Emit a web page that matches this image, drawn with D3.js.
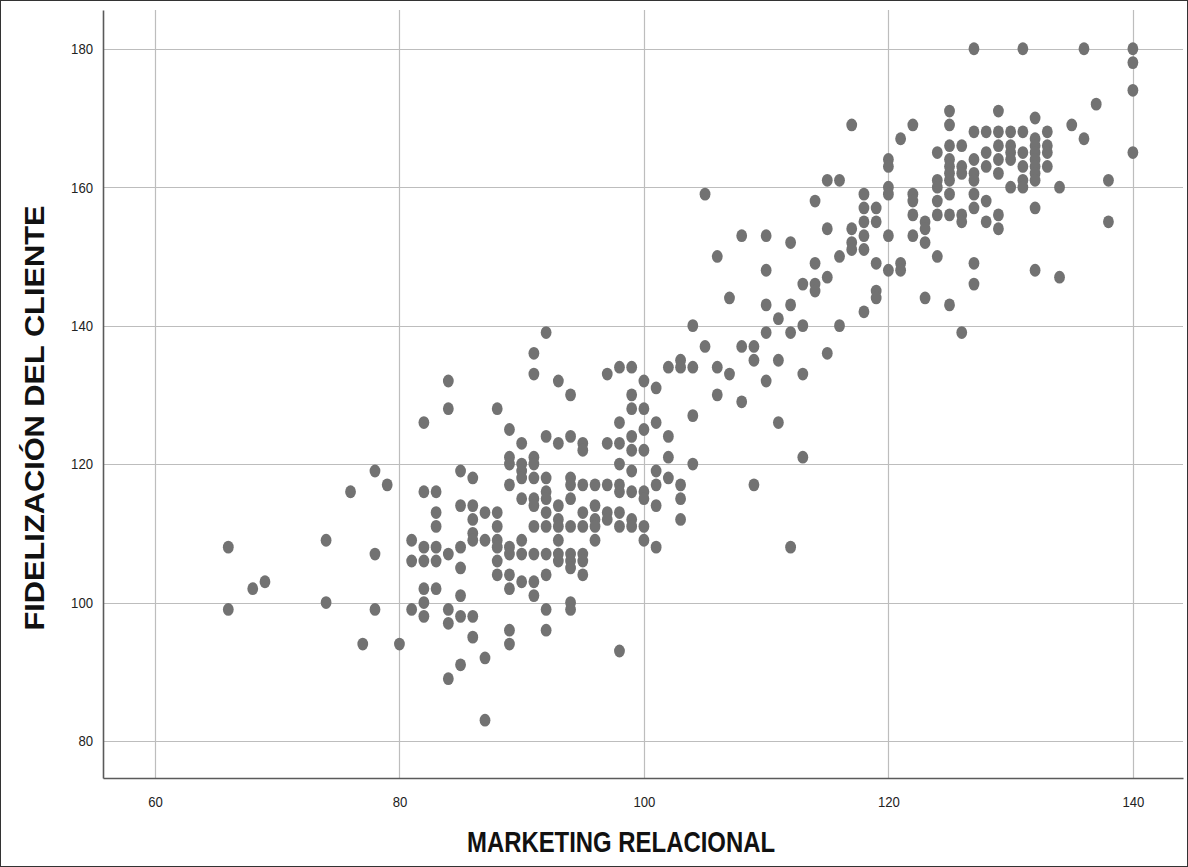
<!DOCTYPE html>
<html>
<head>
<meta charset="utf-8">
<script src="https://cdn.jsdelivr.net/npm/d3@7"></script>
<style>
  body { margin: 0; background: #fff; }
  #scatter_div { width: 1188px; height: 867px; }
</style>
</head>
<body>
<div id="scatter_div"></div>
<script>
// x values (MARKETING RELACIONAL) and the y values read at each x
const marketingScores = [66, 68, 69, 74, 76, 77, 78, 79, 80, 81, 82, 83, 84, 85, 86, 87, 88, 89, 90,
  91, 92, 93, 94, 95, 96, 97, 98, 99, 100, 101, 102, 103, 104, 105, 106, 107, 108, 109, 110,
  111, 112, 113, 114, 115, 116, 117, 118, 119, 120, 121, 122, 123, 124, 125, 126, 127, 128,
  129, 130, 131, 132, 133, 134, 135, 136, 137, 138, 140];

const fidelizacionScores = [
  [108, 99], [102], [103], [109, 100], [116], [94], [119, 107, 99], [117], [94],
  [109, 106, 99],
  [126, 116, 108, 106, 102, 100, 98],
  [116, 113, 111, 108, 106, 102],
  [132, 128, 107, 99, 97, 89],
  [119, 114, 108, 105, 101, 98, 91],
  [118, 114, 112, 110, 109, 98, 95],
  [113, 109, 92, 83],
  [128, 113, 111, 109, 108, 106, 104],
  [125, 121, 120, 117, 108, 107, 104, 102, 96, 94],
  [123, 120, 119, 118, 115, 109, 107, 103],
  [136, 133, 121, 120, 118, 115, 114, 111, 107, 103, 101],
  [139, 124, 118, 116, 115, 113, 111, 107, 104, 99, 96],
  [132, 123, 114, 112, 111, 109, 107, 106],
  [130, 124, 118, 117, 115, 111, 107, 106, 105, 100, 99],
  [123, 122, 117, 113, 111, 107, 106, 104],
  [117, 114, 112, 111, 109],
  [133, 123, 117, 113, 112],
  [134, 126, 123, 120, 117, 116, 113, 111, 93],
  [134, 130, 128, 124, 122, 119, 116, 112, 111],
  [132, 128, 125, 122, 116, 115, 111, 109],
  [131, 126, 119, 117, 114, 108],
  [134, 124, 121, 118],
  [135, 134, 117, 115, 112],
  [140, 134, 127, 120],
  [159, 137],
  [150, 134, 130],
  [144, 133],
  [153, 137, 129],
  [137, 135, 117],
  [153, 148, 143, 139, 132],
  [141, 135, 126],
  [152, 143, 139, 108],
  [146, 140, 133, 121],
  [158, 149, 146, 145],
  [161, 154, 147, 136],
  [161, 150, 140],
  [169, 154, 152, 151],
  [159, 157, 155, 153, 151, 142],
  [157, 155, 149, 145, 144],
  [164, 163, 160, 159, 153, 148],
  [167, 149, 148],
  [169, 159, 158, 156, 153],
  [155, 154, 152, 144],
  [165, 161, 160, 158, 156, 150],
  [171, 169, 166, 164, 163, 162, 161, 159, 156, 143],
  [166, 163, 162, 156, 155, 139],
  [180, 168, 164, 162, 161, 159, 157, 149, 146],
  [168, 165, 163, 158, 155],
  [171, 168, 166, 164, 162, 156, 154],
  [168, 166, 165, 164, 160],
  [180, 168, 165, 163, 161, 160],
  [170, 167, 166, 165, 164, 163, 162, 161, 157, 148],
  [168, 166, 165, 163],
  [160, 147],
  [169],
  [180, 167],
  [172],
  [161, 155],
  [180, 178, 174, 165]
];

const xTicks = [60, 80, 100, 120, 140];
const yTicks = [80, 100, 120, 140, 160, 180];

const xLabel = "MARKETING RELACIONAL";
const yLabel = "FIDELIZACIÓN DEL CLIENTE";

// flatten into points
const points = [];
marketingScores.forEach((mx, i) => {
  fidelizacionScores[i].forEach(fy => points.push({ x: mx, y: fy }));
});

// dimensions
const width = 1188, height = 867;
const plot = { left: 103, right: 1183, top: 10, bottom: 778 };
const FONT = "'Liberation Sans', Arial, sans-serif";

const svg = d3.select("#scatter_div")
  .append("svg")
  .attr("width", width)
  .attr("height", height)
  .attr("viewBox", `0 0 ${width} ${height}`);

// outer frame of the picture
svg.append("rect")
  .attr("x", 0.5).attr("y", 0.5)
  .attr("width", width - 1).attr("height", height - 1)
  .attr("fill", "#fff")
  .attr("stroke", "#333")
  .attr("stroke-width", 1);

// scales
const x = d3.scaleLinear()
  .domain([55.75, 144.1])
  .range([plot.left, plot.right]);

const y = d3.scaleLinear()
  .domain([74.65, 185.6])
  .range([plot.bottom, plot.top]);

// gridlines
svg.append("g")
  .selectAll("line")
  .data(xTicks)
  .join("line")
  .attr("x1", d => Math.round(x(d)) + 0.5)
  .attr("x2", d => Math.round(x(d)) + 0.5)
  .attr("y1", plot.top)
  .attr("y2", plot.bottom)
  .attr("stroke", "#bdbdbd")
  .attr("stroke-width", 1.2);

svg.append("g")
  .selectAll("line")
  .data(yTicks)
  .join("line")
  .attr("x1", plot.left)
  .attr("x2", plot.right)
  .attr("y1", d => Math.round(y(d)) + 0.5)
  .attr("y2", d => Math.round(y(d)) + 0.5)
  .attr("stroke", "#bdbdbd")
  .attr("stroke-width", 1.2);

// axes
const xAxis = svg.append("g")
  .attr("transform", `translate(0, ${plot.bottom})`)
  .call(d3.axisBottom(x).tickValues(xTicks).tickSize(0).tickPadding(18));

const yAxis = svg.append("g")
  .attr("transform", `translate(${plot.left}, 0)`)
  .call(d3.axisLeft(y).tickValues(yTicks).tickSize(0).tickPadding(10));

[xAxis, yAxis].forEach(a => {
  a.select(".domain").attr("stroke", "#5a5a5a").attr("stroke-width", 1.6);
  a.selectAll("text")
    .attr("fill", "#222")
    .attr("textLength", d => String(d).length * 7.3)
    .attr("lengthAdjust", "spacingAndGlyphs")
    .style("font-family", FONT)
    .style("font-size", "15px");
});

// points
svg.append("g")
  .selectAll("ellipse")
  .data(points)
  .join("ellipse")
  .attr("cx", d => x(d.x))
  .attr("cy", d => y(d.y))
  .attr("rx", 5.4)
  .attr("ry", 6.4)
  .attr("fill", "#727272");

// axis titles
svg.append("text")
  .attr("x", 621)
  .attr("y", 852)
  .attr("text-anchor", "middle")
  .attr("textLength", 308)
  .attr("lengthAdjust", "spacingAndGlyphs")
  .style("font-family", FONT)
  .style("font-weight", "bold")
  .style("font-size", "30px")
  .attr("fill", "#111")
  .text(xLabel);

svg.append("text")
  .attr("transform", "translate(44, 418) rotate(-90)")
  .attr("text-anchor", "middle")
  .attr("textLength", 425)
  .attr("lengthAdjust", "spacingAndGlyphs")
  .style("font-family", FONT)
  .style("font-weight", "bold")
  .style("font-size", "27px")
  .attr("fill", "#111")
  .text(yLabel);
</script>
</body>
</html>
